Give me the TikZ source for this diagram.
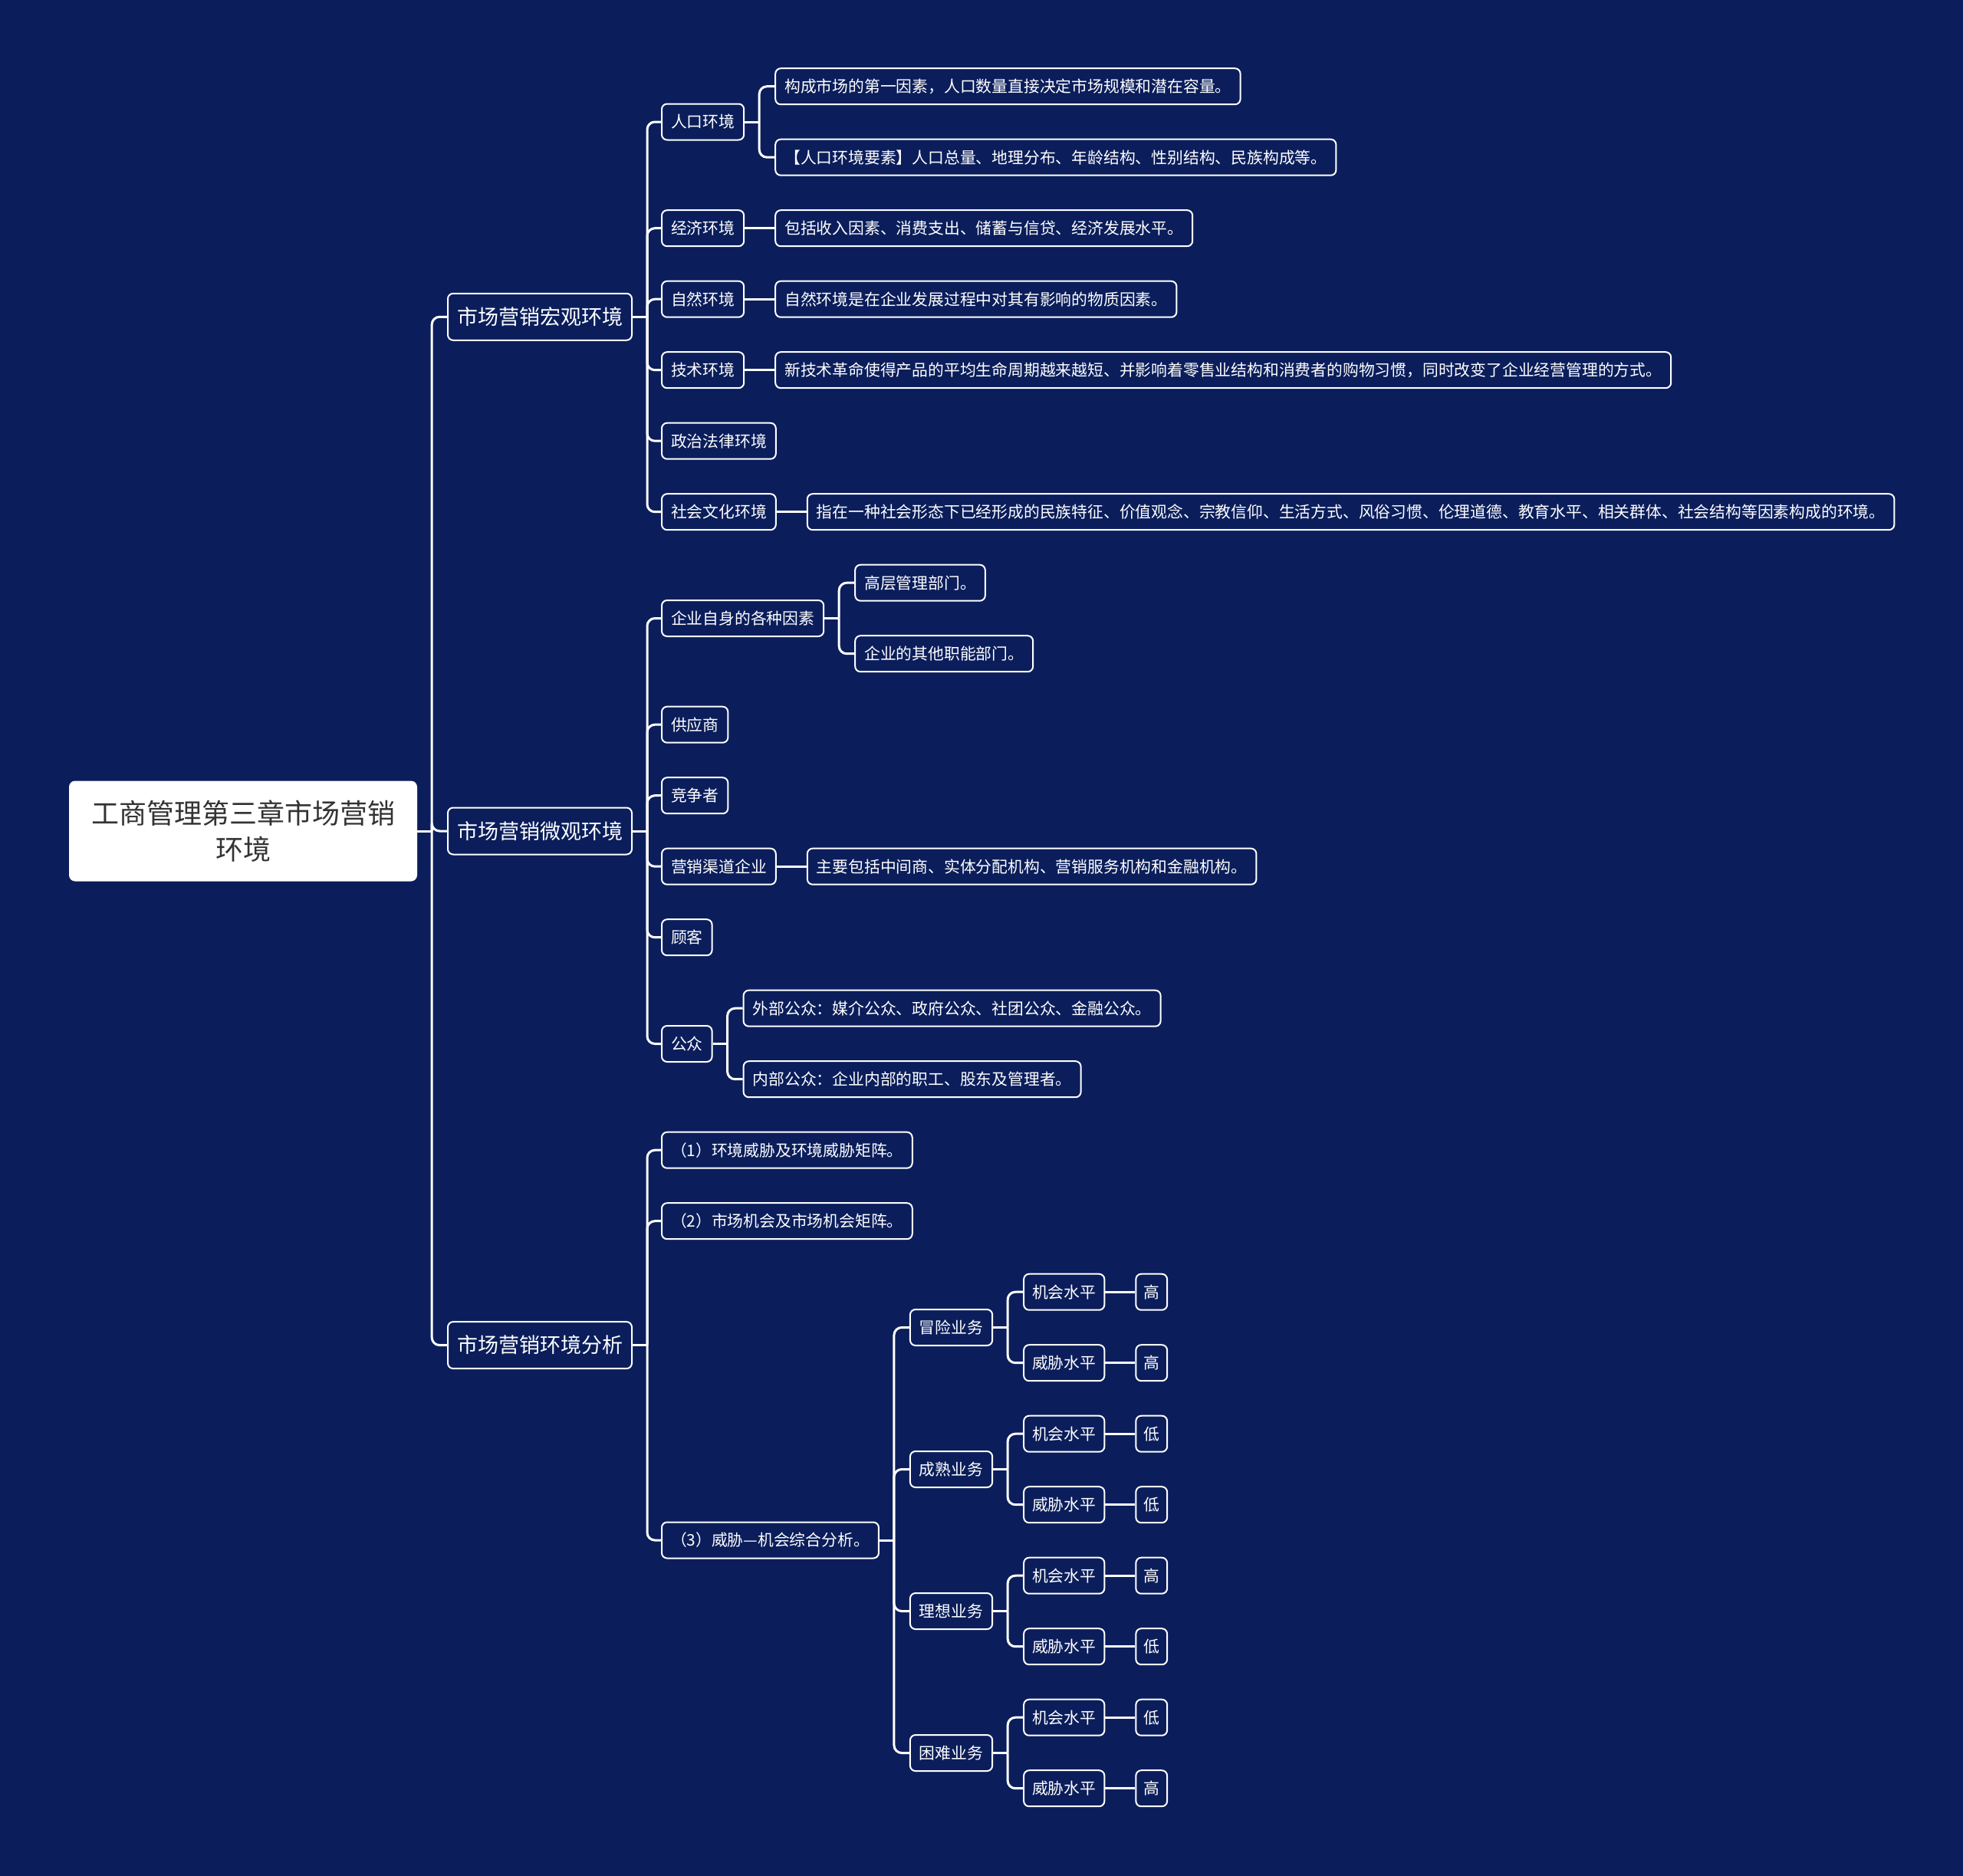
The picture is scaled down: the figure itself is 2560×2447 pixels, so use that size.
\documentclass[tikz,border=0pt]{standalone}
\usepackage{fontspec}
\setmainfont{Noto Sans CJK SC}
\usetikzlibrary{calc}
\definecolor{bgc}{HTML}{0B1E5B}
\begin{document}
\begin{tikzpicture}[x=1pt,y=-1pt,
  box/.style={draw=white, line width=2pt, fill=bgc, rounded corners=7pt, text=white,
    inner xsep=12pt, inner ysep=0pt, anchor=west},
  l2/.style={box, font=\fontsize{20.8}{24}\selectfont, text height=18.3pt, text depth=2.5pt, minimum height=47pt},
  l1/.style={box, font=\fontsize{27}{32}\selectfont, text height=23.8pt, text depth=3.2pt, minimum height=61pt},
  rootn/.style={fill=white, rounded corners=8pt, text=black!80, font=\fontsize{36}{47}\selectfont,
    minimum width=454pt, minimum height=131pt, align=center},
  cn/.style={draw=white, line width=3pt}]
\newcommand\lk[2]{\draw[cn] (#1.east) -- ++(19,0); \draw[cn, rounded corners=10pt] ([xshift=19pt]#1.east) |- (#2.west);}
\newcommand\st[2]{\draw[cn] (#1.east) -- (#2.west);}
\fill[bgc] (0,0) rectangle (2560,2447);
\useasboundingbox (0,0) rectangle (2560,2447);

\node[rootn] (r) at (317,1084) {工商管理第三章市场营销\\环境};

\node[l1] (A) at (583,413.3) {市场营销宏观环境};
\node[l1] (B) at (583,1084) {市场营销微观环境};
\node[l1] (C) at (583,1754.6) {市场营销环境分析};
\lk{r}{A}\lk{r}{B}\lk{r}{C}

% macro environment
\node[l2] (A1) at (862,159) {人口环境};
\node[l2] (A2) at (862,297.7) {经济环境};
\node[l2] (A3) at (862,390.2) {自然环境};
\node[l2] (A4) at (862,482.7) {技术环境};
\node[l2] (A5) at (862,575.2) {政治法律环境};
\node[l2] (A6) at (862,667.7) {社会文化环境};
\foreach \n in {A1,A2,A3,A4,A5,A6} {\lk{A}{\n}}

\node[l2, xshift=39pt] (A1a) at (A1.east |- 0,112.7) {构成市场的第一因素，人口数量直接决定市场规模和潜在容量。};
\node[l2, xshift=39pt] (A1b) at (A1.east |- 0,205.2) {【人口环境要素】人口总量、地理分布、年龄结构、性别结构、民族构成等。};
\lk{A1}{A1a}\lk{A1}{A1b}
\node[l2, xshift=39pt] (A2a) at (A2.east) {包括收入因素、消费支出、储蓄与信贷、经济发展水平。};
\node[l2, xshift=39pt] (A3a) at (A3.east) {自然环境是在企业发展过程中对其有影响的物质因素。};
\node[l2, xshift=39pt] (A4a) at (A4.east) {新技术革命使得产品的平均生命周期越来越短、并影响着零售业结构和消费者的购物习惯，同时改变了企业经营管理的方式。};
\node[l2, xshift=39pt] (A6a) at (A6.east) {指在一种社会形态下已经形成的民族特征、价值观念、宗教信仰、生活方式、风俗习惯、伦理道德、教育水平、相关群体、社会结构等因素构成的环境。};
\st{A2}{A2a}\st{A3}{A3a}\st{A4}{A4a}\st{A6}{A6a}

% micro environment
\node[l2] (B1) at (862,806.5) {企业自身的各种因素};
\node[l2] (B2) at (862,945.2) {供应商};
\node[l2] (B3) at (862,1037.7) {竞争者};
\node[l2] (B4) at (862,1130.2) {营销渠道企业};
\node[l2] (B5) at (862,1222.7) {顾客};
\node[l2] (B6) at (862,1361.5) {公众};
\foreach \n in {B1,B2,B3,B4,B5,B6} {\lk{B}{\n}}

\node[l2, xshift=39pt] (B1a) at (B1.east |- 0,760.2) {高层管理部门。};
\node[l2, xshift=39pt] (B1b) at (B1.east |- 0,852.7) {企业的其他职能部门。};
\lk{B1}{B1a}\lk{B1}{B1b}
\node[l2, xshift=39pt] (B4a) at (B4.east) {主要包括中间商、实体分配机构、营销服务机构和金融机构。};
\st{B4}{B4a}
\node[l2, xshift=39pt] (B6a) at (B6.east |- 0,1315.2) {外部公众：媒介公众、政府公众、社团公众、金融公众。};
\node[l2, xshift=39pt] (B6b) at (B6.east |- 0,1407.7) {内部公众：企业内部的职工、股东及管理者。};
\lk{B6}{B6a}\lk{B6}{B6b}

% analysis
\node[l2] (C1) at (862,1500.2) {（1）环境威胁及环境威胁矩阵。};
\node[l2] (C2) at (862,1592.7) {（2）市场机会及市场机会矩阵。};
\node[l2] (C3) at (862,2009) {（3）威胁—机会综合分析。};
\foreach \n in {C1,C2,C3} {\lk{C}{\n}}

\foreach \i/\nm/\y/\ya/\yb/\va/\vb in {
  1/冒险业务/1731.5/1685.2/1777.7/高/高,
  2/成熟业务/1916.5/1870.2/1962.7/低/低,
  3/理想业务/2101.5/2055.2/2147.7/高/低,
  4/困难业务/2286.5/2240.2/2332.7/低/高} {
  \node[l2, xshift=39pt] (D\i) at (C3.east |- 0,\y) {\nm};
  \lk{C3}{D\i}
  \node[l2, xshift=39pt, inner xsep=11pt] (E\i) at (D\i.east |- 0,\ya) {机会水平};
  \node[l2, xshift=39pt, inner xsep=11pt] (F\i) at (D\i.east |- 0,\yb) {威胁水平};
  \lk{D\i}{E\i}\lk{D\i}{F\i}
  \node[l2, xshift=39pt, inner xsep=10pt] (G\i) at (E\i.east) {\va};
  \node[l2, xshift=39pt, inner xsep=10pt] (H\i) at (F\i.east) {\vb};
  \st{E\i}{G\i}\st{F\i}{H\i}
}
\end{tikzpicture}
\end{document}
